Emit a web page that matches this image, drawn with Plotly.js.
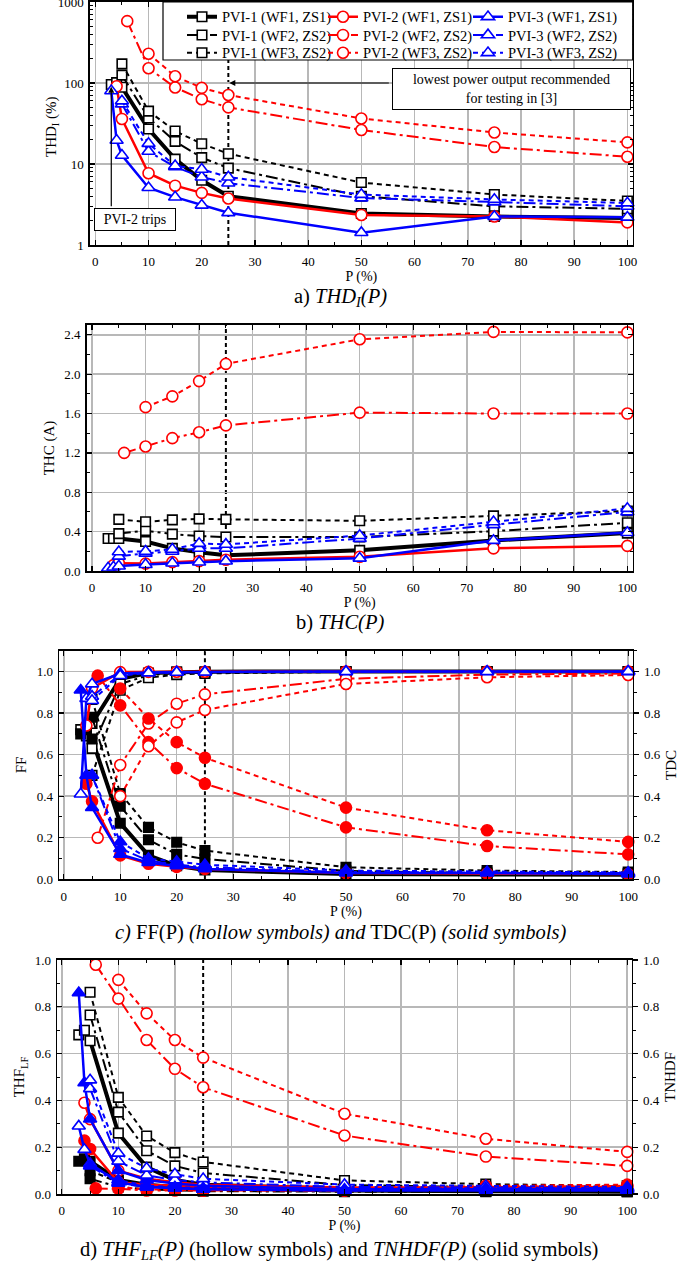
<!DOCTYPE html>
<html><head><meta charset="utf-8">
<script src="https://cdn.plot.ly/plotly-3.0.1.min.js"></script>
<style>html,body{margin:0;padding:0;background:#fff}#chart{width:700px;height:1263px}</style>
</head><body><div id="chart"></div>
<script>
// ---------- power levels (x) ----------
const P_PVI1_WF1 = [3,4,5,10,15,20,25,50,75,100];
const P_PVI1_WF2 = [5,10,15,20,25,50,75,100];
const P_PVI1_WF3 = [5,10,15,20,25,50,75,100];
const P_PVI2_WF1 = [4,5,10,15,20,25,50,75,100];
const P_PVI2_WF2 = [6,10,15,20,25,50,75,100];
const P_PVI2_WF3 = [10,15,20,25,50,75,100];
const P_PVI3_WF1 = [3,4,5,10,15,20,25,50,75,100];
const P_PVI3_WF2 = [5,10,15,20,25,50,75,100];
const P_PVI3_WF3 = [5,10,15,20,25,50,75,100];
const P_RECOMMENDED = 25;
const P_TRIP = 3;

// ---------- a) THD_I (%) ----------
const THD_PVI1_WF1 = [96,101,88.5,27,11.5,6.3,4.0,2.45,2.25,2.15];
const THD_PVI1_WF2 = [125,37,19,12,8.9,4.0,3.0,2.8];
const THD_PVI1_WF3 = [172,45,25.5,17.8,13.4,5.9,4.2,3.5];
const THD_PVI2_WF1 = [91,36,7.7,5.4,4.4,3.75,2.35,2.25,1.9];
const THD_PVI2_WF2 = [580,152,88,63,50,26.3,16.2,12.3];
const THD_PVI2_WF3 = [230,121,87,71,36.5,24.5,18.5];
const THD_PVI3_WF1 = [80,19.6,12.8,5.1,3.9,3.1,2.5,1.42,2.25,2.2];
const THD_PVI3_WF2 = [55,14.3,9.2,6.9,5.8,3.8,3.4,3.0];
const THD_PVI3_WF3 = [60,17.9,9.5,8.6,6.9,4.2,3.65,3.3];

// ---------- b) THC (A) ----------
const THC_PVI1_WF1 = [0.33,0.33,0.33,0.30,0.23,0.19,0.16,0.21,0.31,0.385];
const THC_PVI1_WF2 = [0.38,0.41,0.375,0.355,0.345,0.345,0.405,0.49];
const THC_PVI1_WF3 = [0.525,0.50,0.52,0.53,0.525,0.51,0.56,0.61];
const THC_PVI2_WF1 = [0.06,0.08,0.075,0.09,0.10,0.115,0.145,0.23,0.255];
const THC_PVI2_WF2 = [1.20,1.265,1.35,1.41,1.48,1.61,1.60,1.60];
const THC_PVI2_WF3 = [1.665,1.775,1.93,2.105,2.355,2.43,2.425];
const THC_PVI3_WF1 = [0.03,0.04,0.05,0.065,0.08,0.09,0.10,0.13,0.31,0.39];
const THC_PVI3_WF2 = [0.15,0.18,0.20,0.23,0.23,0.33,0.47,0.60];
const THC_PVI3_WF3 = [0.195,0.20,0.22,0.28,0.27,0.36,0.50,0.635];

// ---------- c) FF (hollow) and TDC (solid) ----------
const FF_PVI1_WF1 = [0.72,0.69,0.75,0.965,0.993,0.998,0.999,1.0,1.0,1.0];
const TDC_PVI1_WF1 = [0.70,0.72,0.675,0.27,0.115,0.065,0.045,0.025,0.023,0.022];
const FF_PVI1_WF2 = [0.63,0.94,0.982,0.993,0.996,0.999,1.0,1.0];
const TDC_PVI1_WF2 = [0.78,0.352,0.19,0.12,0.098,0.04,0.03,0.028];
const FF_PVI1_WF3 = [0.50,0.91,0.97,0.985,0.991,0.998,0.999,0.999];
const TDC_PVI1_WF3 = [0.865,0.413,0.25,0.178,0.138,0.058,0.042,0.035];
const FF_PVI2_WF1 = [0.74,0.92,0.997,0.998,0.999,0.999,1.0,1.0,1.0];
const TDC_PVI2_WF1 = [0.46,0.375,0.115,0.075,0.06,0.05,0.03,0.028,0.025];
const FF_PVI2_WF2 = [0.20,0.55,0.75,0.845,0.89,0.965,0.985,0.99];
const TDC_PVI2_WF2 = [0.98,0.837,0.66,0.535,0.46,0.25,0.16,0.12];
const FF_PVI2_WF3 = [0.40,0.64,0.755,0.815,0.94,0.972,0.983];
const TDC_PVI2_WF3 = [0.918,0.774,0.66,0.585,0.345,0.236,0.18];
const FF_PVI3_WF1 = [0.41,0.87,0.94,0.99,0.995,0.997,0.998,1.0,1.0,1.0];
const TDC_PVI3_WF1 = [0.91,0.50,0.345,0.12,0.08,0.065,0.05,0.03,0.03,0.025];
const FF_PVI3_WF2 = [0.88,0.985,0.995,0.997,0.998,0.999,1.0,1.0];
const TDC_PVI3_WF2 = [0.50,0.148,0.09,0.07,0.058,0.035,0.032,0.03];
const FF_PVI3_WF3 = [0.86,0.98,0.993,0.996,0.997,0.999,0.999,1.0];
const TDC_PVI3_WF3 = [0.50,0.18,0.10,0.085,0.07,0.042,0.036,0.033];

// ---------- d) THF_LF (hollow) and TNHDF (solid) ----------
const THF_PVI1_WF1 = [0.68,0.70,0.655,0.26,0.115,0.06,0.04,0.022,0.02,0.02];
const TNHDF_PVI1_WF1 = [0.14,0.15,0.14,0.06,0.04,0.03,0.025,0.015,0.012,0.01];
const THF_PVI1_WF2 = [0.765,0.35,0.185,0.12,0.09,0.038,0.03,0.027];
const TNHDF_PVI1_WF2 = [0.065,0.03,0.02,0.015,0.012,0.01,0.01,0.01];
const THF_PVI1_WF3 = [0.862,0.413,0.248,0.177,0.137,0.058,0.042,0.035];
const TNHDF_PVI1_WF3 = [0.10,0.05,0.03,0.025,0.02,0.015,0.012,0.012];
const THF_PVI2_WF1 = [0.39,0.32,0.10,0.065,0.05,0.04,0.028,0.027,0.025];
const TNHDF_PVI2_WF1 = [0.228,0.192,0.05,0.04,0.035,0.03,0.025,0.028,0.03];
const THF_PVI2_WF2 = [0.98,0.835,0.658,0.535,0.456,0.25,0.16,0.12];
const TNHDF_PVI2_WF2 = [0.024,0.022,0.015,0.015,0.014,0.014,0.03,0.035];
const THF_PVI2_WF3 = [0.915,0.772,0.658,0.583,0.343,0.236,0.18];
const TNHDF_PVI2_WF3 = [0.03,0.02,0.018,0.017,0.017,0.035,0.04];
const THF_PVI3_WF1 = [0.29,0.19,0.13,0.05,0.03,0.025,0.02,0.015,0.015,0.015];
const TNHDF_PVI3_WF1 = [0.86,0.475,0.32,0.10,0.06,0.045,0.035,0.02,0.02,0.02];
const THF_PVI3_WF2 = [0.45,0.14,0.08,0.06,0.05,0.03,0.028,0.025];
const TNHDF_PVI3_WF2 = [0.12,0.046,0.03,0.025,0.02,0.015,0.02,0.02];
const THF_PVI3_WF3 = [0.487,0.174,0.11,0.085,0.065,0.04,0.035,0.03];
const TNHDF_PVI3_WF3 = [0.12,0.06,0.035,0.03,0.025,0.02,0.025,0.025];

// ---------- labels ----------
const SERIES_NAMES = ['PVI-1 (WF1, ZS1)','PVI-1 (WF2, ZS2)','PVI-1 (WF3, ZS2)',
                      'PVI-2 (WF1, ZS1)','PVI-2 (WF2, ZS2)','PVI-2 (WF3, ZS2)',
                      'PVI-3 (WF1, ZS1)','PVI-3 (WF2, ZS2)','PVI-3 (WF3, ZS2)'];

const FONT = 'Liberation Serif';
const W = 700, H = 1263;
const fx = px => px / W;
const fy = py => 1 - py / H;

const INV = {
  'PVI-1': {color:'#000000', symbol:'square', size:9.5, col:0},
  'PVI-2': {color:'#ff0000', symbol:'circle', size:11, col:1},
  'PVI-3': {color:'#0000ff', symbol:'triangle-up', size:11.5, col:2}
};
const WFROW = {WF1:0, WF2:1, WF3:2};
const WFDASH = {WF1:'solid', WF2:'12px,4px,3px,4px', WF3:'5px,4px'};

const series = [
  {inv:'PVI-1', wf:'WF1', P:P_PVI1_WF1, a:THD_PVI1_WF1, b:THC_PVI1_WF1, c1:FF_PVI1_WF1, c2:TDC_PVI1_WF1, d1:THF_PVI1_WF1, d2:TNHDF_PVI1_WF1},
  {inv:'PVI-1', wf:'WF2', P:P_PVI1_WF2, a:THD_PVI1_WF2, b:THC_PVI1_WF2, c1:FF_PVI1_WF2, c2:TDC_PVI1_WF2, d1:THF_PVI1_WF2, d2:TNHDF_PVI1_WF2},
  {inv:'PVI-1', wf:'WF3', P:P_PVI1_WF3, a:THD_PVI1_WF3, b:THC_PVI1_WF3, c1:FF_PVI1_WF3, c2:TDC_PVI1_WF3, d1:THF_PVI1_WF3, d2:TNHDF_PVI1_WF3},
  {inv:'PVI-2', wf:'WF1', P:P_PVI2_WF1, a:THD_PVI2_WF1, b:THC_PVI2_WF1, c1:FF_PVI2_WF1, c2:TDC_PVI2_WF1, d1:THF_PVI2_WF1, d2:TNHDF_PVI2_WF1},
  {inv:'PVI-2', wf:'WF2', P:P_PVI2_WF2, a:THD_PVI2_WF2, b:THC_PVI2_WF2, c1:FF_PVI2_WF2, c2:TDC_PVI2_WF2, d1:THF_PVI2_WF2, d2:TNHDF_PVI2_WF2},
  {inv:'PVI-2', wf:'WF3', P:P_PVI2_WF3, a:THD_PVI2_WF3, b:THC_PVI2_WF3, c1:FF_PVI2_WF3, c2:TDC_PVI2_WF3, d1:THF_PVI2_WF3, d2:TNHDF_PVI2_WF3},
  {inv:'PVI-3', wf:'WF1', P:P_PVI3_WF1, a:THD_PVI3_WF1, b:THC_PVI3_WF1, c1:FF_PVI3_WF1, c2:TDC_PVI3_WF1, d1:THF_PVI3_WF1, d2:TNHDF_PVI3_WF1},
  {inv:'PVI-3', wf:'WF2', P:P_PVI3_WF2, a:THD_PVI3_WF2, b:THC_PVI3_WF2, c1:FF_PVI3_WF2, c2:TDC_PVI3_WF2, d1:THF_PVI3_WF2, d2:TNHDF_PVI3_WF2},
  {inv:'PVI-3', wf:'WF3', P:P_PVI3_WF3, a:THD_PVI3_WF3, b:THC_PVI3_WF3, c1:FF_PVI3_WF3, c2:TDC_PVI3_WF3, d1:THF_PVI3_WF3, d2:TNHDF_PVI3_WF3}
];
series.forEach((s,i) => s.name = SERIES_NAMES[i]);

// legend cells: one small legend per entry (3 columns x 3 rows)
const LEG_COL_X = [182, 323, 468];
const LEG_ROW_TOP = [0.8, 19.0, 36.8];
function legendId(s){
  const k = WFROW[s.wf] * 3 + INV[s.inv].col + 1;
  return k === 1 ? 'legend' : 'legend' + k;
}

function lineWidth(s){ return s.wf === 'WF1' ? (s.inv === 'PVI-1' ? 4 : 2.5) : 2; }

function trace(s, y, xa, ya, hollow, legend){
  const st = INV[s.inv];
  return {
    type:'scatter', mode:'lines+markers', x:s.P, y:y, xaxis:xa, yaxis:ya,
    name:s.name, showlegend:!!legend, legend:legendId(s), cliponaxis:false,
    line:{color:st.color, width:lineWidth(s), dash:WFDASH[s.wf]},
    marker:{symbol:st.symbol, size:st.size, color: hollow ? '#ffffff' : st.color,
            line:{color:st.color, width:1.6}},
    hoverinfo:'x+y+name'
  };
}

const data = [];
series.forEach(s => data.push(trace(s, s.a, 'x', 'y', true, true)));
series.forEach(s => data.push(trace(s, s.b, 'x2', 'y2', true, false)));
series.forEach(s => { data.push(trace(s, s.c1, 'x3', 'y3', true, false)); data.push(trace(s, s.c2, 'x3', 'y3', false, false)); });
series.forEach(s => { data.push(trace(s, s.d1, 'x4', 'y4', true, false)); data.push(trace(s, s.d2, 'x4', 'y4', false, false)); });
// carriers for the right-hand axes
data.push({type:'scatter', x:[null], y:[null], xaxis:'x3', yaxis:'y5', showlegend:false, hoverinfo:'skip'});
data.push({type:'scatter', x:[null], y:[null], xaxis:'x4', yaxis:'y6', showlegend:false, hoverinfo:'skip'});

const GRID = '#b8b8b8';
const tickfont = {family:FONT, size:13, color:'#000'};
const titlefont = {family:FONT, size:14, color:'#000'};
const ytitlefont = {family:FONT, size:15, color:'#000'};

function xAxis(dom, anchor, range){
  return {domain:[fx(dom[0]), fx(dom[1])], anchor:anchor, range:range, tick0:0, dtick:10,
    ticks:'inside', ticklen:5, tickwidth:1.2, tickcolor:'#000',
    minor:{dtick:5, ticks:'inside', ticklen:3, tickwidth:1, tickcolor:'#000', showgrid:false},
    showgrid:true, gridcolor:GRID, gridwidth:1.5, zeroline:false,
    showline:true, linecolor:'#000', linewidth:1.6, mirror:'ticks',
    tickfont:tickfont, ticklabelstandoff:4,
    title:{text:'P (%)', font:titlefont, standoff:2}};
}
function yAxis(dom, anchor, range, dtick, minorDtick, title, mirror){
  return {domain:[fy(dom[1]), fy(dom[0])], anchor:anchor, range:range, tick0:0, dtick:dtick,
    tickformat:'.1f',
    ticks:'inside', ticklen:5, tickwidth:1.2, tickcolor:'#000',
    minor:{dtick:minorDtick, ticks:'inside', ticklen:3, tickwidth:1, tickcolor:'#000', showgrid:false},
    showgrid:true, gridcolor:GRID, gridwidth:1.5, zeroline:false,
    showline:true, linecolor:'#000', linewidth:1.6, mirror:mirror,
    tickfont:tickfont, ticklabelstandoff:2, ticklabeloverflow:'allow',
    title:{text:title, font:ytitlefont, standoff:6}};
}
function yRight(over, anchor, range, title){
  return {overlaying:over, anchor:anchor, side:'right', range:range, tick0:0, dtick:0.2,
    tickformat:'.1f', ticks:'outside', ticklen:5, tickwidth:1.2, tickcolor:'#000',
    minor:{dtick:0.1, ticks:'outside', ticklen:3, tickwidth:1, tickcolor:'#000', showgrid:false},
    showgrid:false, zeroline:false, showline:true, linecolor:'#000', linewidth:1.6,
    tickfont:tickfont, ticklabelstandoff:2,
    title:{text:title, font:ytitlefont, standoff:6}};
}

const DA = {x:[90,632.7], y:[2,245]};
const DB = {x:[86.7,632.7], y:[325,571]};
const DC = {x:[59.3,632.7], y:[650.7,879.3]};
const DD = {x:[57.3,631.7], y:[960,1194]};

const yA = yAxis(DA.y, 'x', [0,3], 1, 'D1', '', 'ticks');
yA.type = 'log'; delete yA.tickformat; yA.exponentformat = 'none'; delete yA.tick0;
yA.minor = {dtick:'D1', ticks:'inside', ticklen:3, tickwidth:1, tickcolor:'#000', showgrid:false};

const vline = (xr, yr) => ({type:'line', xref:xr, yref:yr + ' domain', x0:P_RECOMMENDED, x1:P_RECOMMENDED, y0:0, y1:1, layer:'below', line:{color:'#000', width:2, dash:'4px,3px'}});

const layout = {
  width:W, height:H, margin:{l:0, r:0, t:0, b:0},
  paper_bgcolor:'#ffffff', plot_bgcolor:'#ffffff',
  font:{family:FONT, size:13, color:'#000'},
  showlegend:true,
  xaxis: xAxis(DA.x, 'y', [-1,101]),
  yaxis: yA,
  xaxis2: xAxis(DB.x, 'y2', [-1,101]),
  yaxis2: yAxis(DB.y, 'x2', [0,2.5], 0.4, 0.2, 'THC (A)', 'ticks'),
  xaxis3: xAxis(DC.x, 'y3', [-0.8,100.8]),
  yaxis3: yAxis(DC.y, 'x3', [0,1.1], 0.2, 0.1, 'FF', false),
  yaxis5: yRight('y3', 'x3', [0,1.1], 'TDC'),
  xaxis4: xAxis(DD.x, 'y4', [-0.8,100.8]),
  yaxis4: yAxis(DD.y, 'x4', [0,1.0], 0.2, 0.1, 'THF<sub>LF</sub>', false),
  yaxis6: yRight('y4', 'x4', [0,1.0], 'TNHDF'),
  shapes: [
    vline('x','y'), vline('x2','y2'), vline('x3','y3'), vline('x4','y4'),
    // legend frame
    {type:'rect', xref:'paper', yref:'paper', x0:fx(163), x1:fx(632.7), y0:fy(60), y1:fy(2), layer:'above', fillcolor:'#ffffff', line:{color:'#000', width:1.2}}
  ],
  annotations: [
    {xref:'paper', yref:'paper', x:fx(52), y:fy(127), text:'THD<sub>I</sub> (%)', textangle:-90, showarrow:false, font:ytitlefont, xanchor:'center', yanchor:'middle'},
    {xref:'paper', yref:'paper', x:fx(340), y:fy(297), text:'a) <i>THD<sub>I</sub>(P)</i>', showarrow:false, font:{family:FONT, size:20.5}, xanchor:'center', yanchor:'middle'},
    {xref:'paper', yref:'paper', x:fx(340), y:fy(622), text:'b) <i>THC(P)</i>', showarrow:false, font:{family:FONT, size:20.5}, xanchor:'center', yanchor:'middle'},
    {xref:'paper', yref:'paper', x:fx(340), y:fy(932), text:'<i>c)</i> FF(P) <i>(hollow symbols) and</i> TDC(P) <i>(solid symbols)</i>', showarrow:false, font:{family:FONT, size:20.5}, xanchor:'center', yanchor:'middle'},
    {xref:'paper', yref:'paper', x:fx(339), y:fy(1250), text:'d) <i>THF<sub>LF</sub>(P)</i> (hollow symbols) and <i>TNHDF(P)</i> (solid symbols)', showarrow:false, font:{family:FONT, size:20.5}, xanchor:'center', yanchor:'middle'},
    // boxes in panel a
    {xref:'paper', yref:'paper', x:fx(511), y:fy(88.8), text:'lowest power output recommended<br>for testing in [3]', showarrow:false, font:{family:FONT, size:14}, xanchor:'center', yanchor:'middle', bgcolor:'#ffffff', bordercolor:'#000', borderwidth:1, borderpad:2, width:233, height:36},
    {xref:'paper', yref:'paper', x:fx(135), y:fy(219.5), text:'PVI-2 trips', showarrow:false, font:{family:FONT, size:14}, xanchor:'center', yanchor:'middle', bgcolor:'#ffffff', bordercolor:'#000', borderwidth:1, borderpad:1, width:78, height:19},
    // arrows
    {xref:'x', yref:'y', x:P_TRIP, y:Math.log10(90), ax:0, ay:121, text:'', showarrow:true, arrowhead:2, arrowsize:1, arrowwidth:1.2, arrowcolor:'#000', standoff:0},
    {xref:'x', yref:'y', x:P_RECOMMENDED, y:2, ax:162, ay:0, text:'', showarrow:true, arrowhead:2, arrowsize:1, arrowwidth:1.2, arrowcolor:'#000', standoff:1}
  ]
};

// one legend per entry, arranged in a 3x3 grid inside the frame
for (let r = 0; r < 3; r++) {
  for (let c = 0; c < 3; c++) {
    const k = r * 3 + c + 1;
    layout[k === 1 ? 'legend' : 'legend' + k] = {
      orientation:'v', xanchor:'left', yanchor:'top', x:fx(LEG_COL_X[c]), y:fy(LEG_ROW_TOP[r]),
      bgcolor:'rgba(0,0,0,0)', borderwidth:0, font:{family:FONT, size:14.5, color:'#000'},
      itemclick:false, itemdoubleclick:false
    };
  }
}

Plotly.newPlot('chart', data, layout, {displayModeBar:false, staticPlot:true});
</script>
</body></html>
